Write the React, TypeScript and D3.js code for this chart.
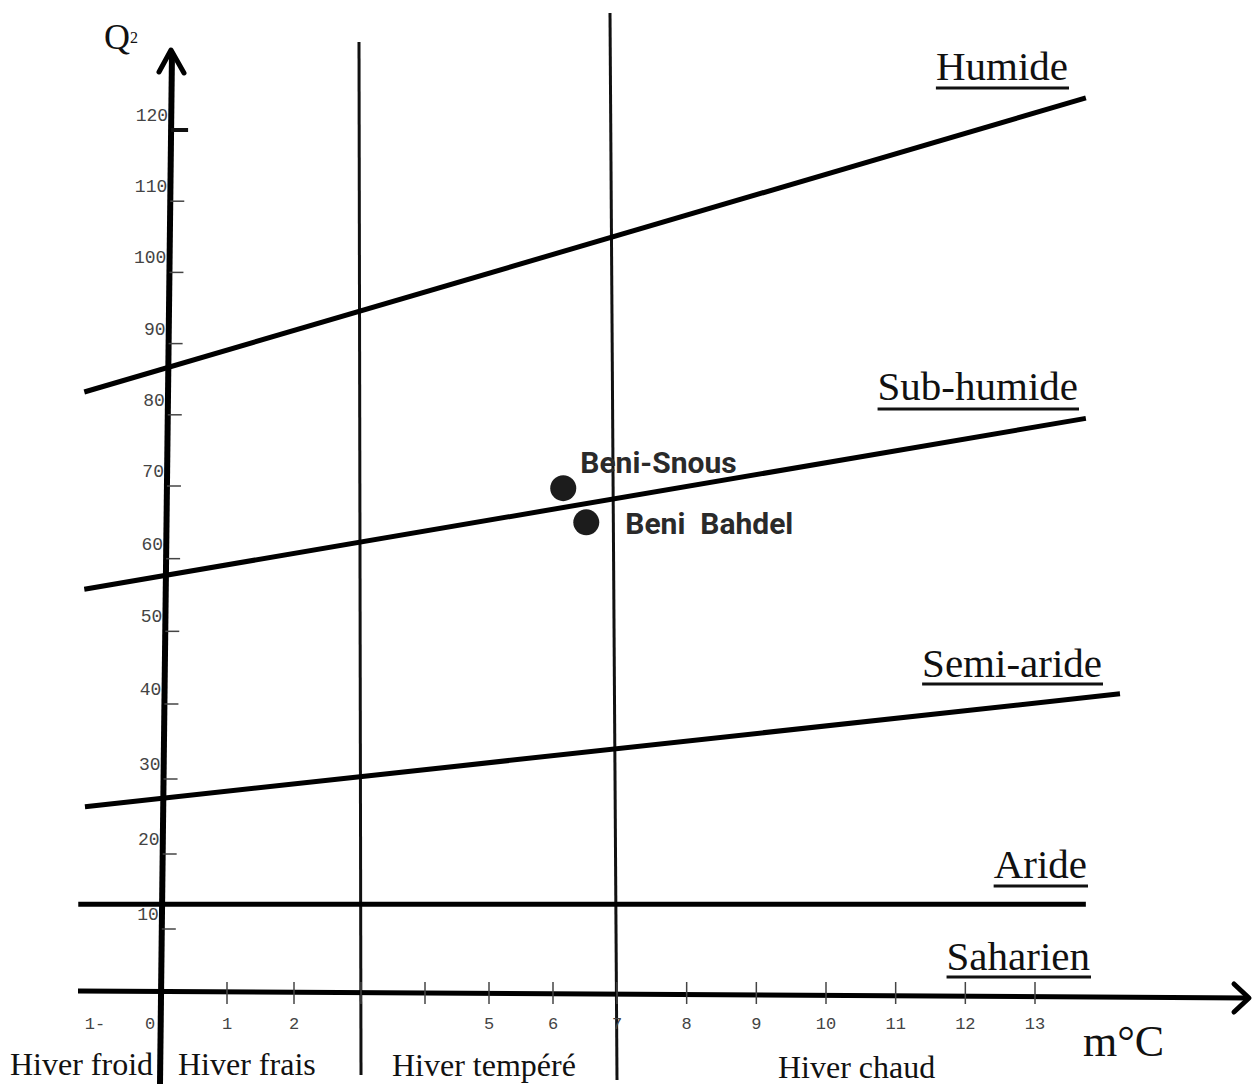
import React from 'react';
import * as d3 from 'd3';

// Emberger climagram: Q2 vs m (°C)
const mTicks = [-1, 0, 1, 2, 3, 4, 5, 6, 7, 8, 9, 10, 11, 12, 13];
const mTickLabels = ['1-', '0', '1', '2', '', '', '5', '6', '7', '8', '9', '10', '11', '12', '13'];
const q2Ticks = [10, 20, 30, 40, 50, 60, 70, 80, 90, 100, 110, 120];

// bioclimatic boundaries (start / end in m, Q2)
const zoneNames = ['Humide', 'Sub-humide', 'Semi-aride', 'Aride', 'Saharien'];
const boundaryStartM = [-1.13, -1.13, -1.12, -1.22];
const boundaryEndM = [13.73, 13.73, 14.22, 13.73];
const boundaryStartQ2 = [83.2, 55.8, 26.3, 13.3];
const boundaryEndQ2 = [124.5, 79.5, 41.4, 13.3];

// winter variants
const winterLimitsM = [3, 7];
const winterNames = ['Hiver froid', 'Hiver frais', 'Hiver tempéré', 'Hiver chaud'];

// stations
const stationNames = ['Beni-Snous', 'Beni  Bahdel'];
const stationM = [6.16, 6.52];
const stationQ2 = [69.7, 65.0];

const W = 1253;
const H = 1084;

const xScale = d3.scaleLinear().domain([-1, 0, 3, 7, 13]).range([93, 160, 361, 617, 1035]);
const yScale = d3.scaleLinear().domain([10, 40, 70, 120]).range([929, 704, 486, 130]);

const zoneLabelPos = [
  { x: 1068, y: 80, ul: 88 },
  { x: 1078, y: 400, ul: 409 },
  { x: 1102, y: 677, ul: 684 },
  { x: 1087, y: 878, ul: 886 },
  { x: 1090, y: 970, ul: 977 },
];
const winterLabelX = [10, 178, 392, 778];
const winterLabelY = [1075, 1075, 1076, 1078];
const limitTop = [42, 13];

const serif = '"Liberation Serif", "DejaVu Serif", serif';
const mono = '"Liberation Mono", "DejaVu Sans Mono", monospace';

const App: React.FC = () => {
  const line = d3
    .line<[number, number]>()
    .x((d) => xScale(d[0]))
    .y((d) => yScale(d[1]));

  const x0 = xScale(0);

  return (
    <svg
      width={W}
      height={H}
      style={{ position: 'absolute', left: 0, top: 0, background: '#fff' }}
      fontFamily={serif}
    >
      <rect x={0} y={0} width={W} height={H} fill="#fff" />

      {/* winter limits */}
      {winterLimitsM.map((m, i) => (
        <line
          key={'wl' + i}
          x1={xScale(m) - (i === 1 ? 7 : 2)}
          y1={limitTop[i]}
          x2={xScale(m)}
          y2={i === 1 ? 1080 : 1075}
          stroke="#111"
          strokeWidth={3}
        />
      ))}

      {/* boundaries */}
      {boundaryStartM.map((m, i) => (
        <path
          key={'b' + i}
          d={line([
            [m, boundaryStartQ2[i]],
            [boundaryEndM[i], boundaryEndQ2[i]],
          ]) || ''}
          fill="none"
          stroke="#000"
          strokeWidth={5}
        />
      ))}

      {/* y axis */}
      <line x1={x0} y1={H} x2={x0 + 12} y2={52} stroke="#000" strokeWidth={6} />
      <polyline
        points={`${x0 - 1},72 ${x0 + 11},50 ${x0 + 24},73`}
        fill="none"
        stroke="#000"
        strokeWidth={5}
        strokeLinecap="round"
        strokeLinejoin="round"
      />
      {q2Ticks.map((q, i) => {
        const y = yScale(q);
        const ax = x0 + 12 * ((H - y) / (H - 52));
        return (
          <g key={'yt' + i}>
            <line
              x1={ax}
              y1={y}
              x2={ax + (q === 120 ? 17 : 14)}
              y2={y}
              stroke={q === 120 ? '#111' : '#444'}
              strokeWidth={q === 120 ? 4 : 1.5}
            />
            <text
              x={ax - 3}
              y={y - 9}
              textAnchor="end"
              fontFamily={mono}
              fontSize={18}
              fill="#444"
            >
              {q}
            </text>
          </g>
        );
      })}
      <text x={104} y={49} fontSize={36} fill="#111">
        Q
      </text>
      <text x={130} y={43} fontSize={16} fill="#111">
        2
      </text>

      {/* x axis */}
      <line x1={78} y1={991} x2={1248} y2={998} stroke="#000" strokeWidth={5} />
      <polyline
        points="1234,984 1249,998 1234,1012"
        fill="none"
        stroke="#000"
        strokeWidth={5}
        strokeLinecap="round"
        strokeLinejoin="round"
      />
      {mTicks.map((m, i) => {
        const x = xScale(m);
        return (
          <g key={'xt' + i}>
            {m > 0 && (
              <line x1={x} y1={982} x2={x} y2={1004} stroke="#444" strokeWidth={1.5} />
            )}
            <text
              x={m === 0 ? x - 10 : m === -1 ? x + 2 : x}
              y={1029}
              textAnchor="middle"
              fontFamily={mono}
              fontSize={17}
              fill="#444"
            >
              {mTickLabels[i]}
            </text>
          </g>
        );
      })}
      <text x={1083} y={1056} fontSize={44} fill="#111">
        m°C
      </text>

      {/* zone labels */}
      {zoneNames.map((name, i) => {
        const p = zoneLabelPos[i];
        return (
          <g key={'z' + i}>
            <text x={p.x} y={p.y} textAnchor="end" fontSize={41} fill="#111">
              {name}
            </text>
            <ZoneUnderline name={name} x={p.x} y={p.ul} />
          </g>
        );
      })}

      {/* winter labels */}
      {winterNames.map((name, i) => (
        <text key={'w' + i} x={winterLabelX[i]} y={winterLabelY[i]} fontSize={32} fill="#111">
          {name}
        </text>
      ))}

      {/* stations */}
      {stationNames.map((name, i) => (
        <circle
          key={'s' + i}
          cx={xScale(stationM[i])}
          cy={yScale(stationQ2[i])}
          r={13}
          fill="#1c1c1c"
        />
      ))}
      <text
        x={xScale(stationM[0]) + 17}
        y={yScale(stationQ2[0]) - 15}
        fontFamily="Roboto, sans-serif"
        fontWeight="bold"
        fontSize={30}
        fill="#2a2a2a"
      >
        {stationNames[0]}
      </text>
      <text
        x={xScale(stationM[1]) + 39}
        y={yScale(stationQ2[1]) + 12}
        fontFamily="Roboto, sans-serif"
        fontWeight="bold"
        fontSize={30}
        fill="#2a2a2a"
        style={{ whiteSpace: 'pre' }}
      >
        {stationNames[1]}
      </text>
    </svg>
  );
};

// underline measured from the rendered text width
const ZoneUnderline: React.FC<{ name: string; x: number; y: number }> = ({ name, x, y }) => {
  const ref = React.useRef<SVGLineElement | null>(null);
  React.useEffect(() => {
    if (!ref.current) return;
    const t = ref.current.previousSibling as SVGTextElement | null;
    if (!t) return;
    const w = t.getComputedTextLength();
    d3.select(ref.current).attr('x1', x - w).attr('x2', x + 1);
  }, [name, x]);
  return <line ref={ref} x1={x - 120} y1={y} x2={x} y2={y} stroke="#111" strokeWidth={3} />;
};

export default App;
